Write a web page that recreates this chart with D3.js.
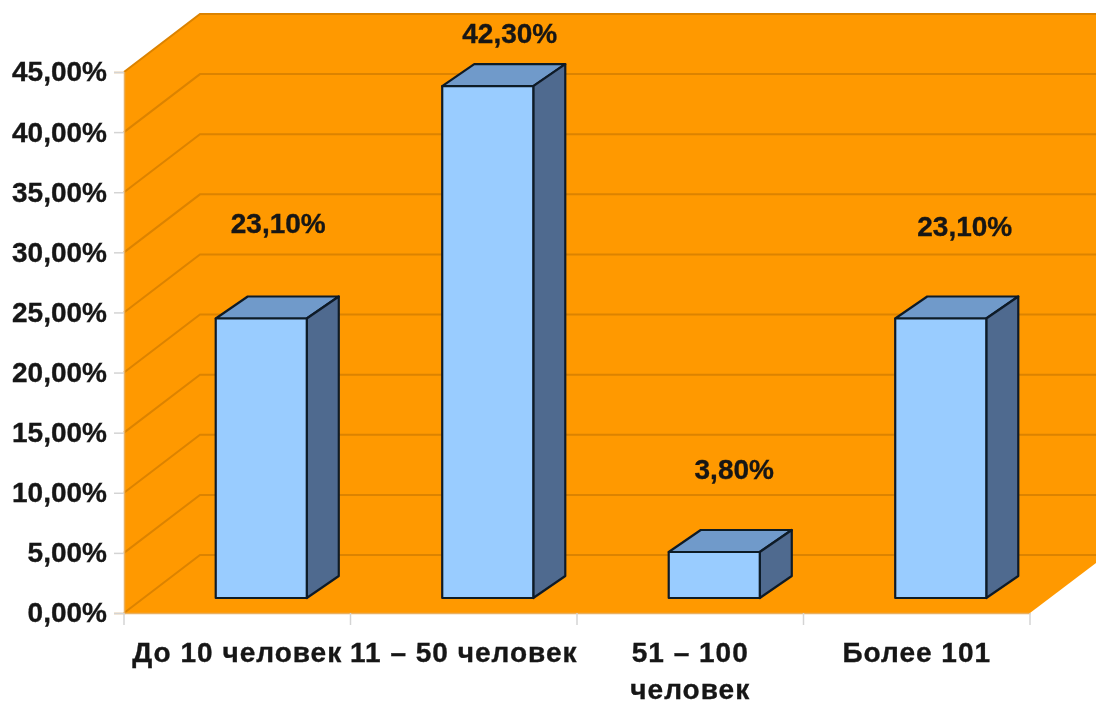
<!DOCTYPE html>
<html>
<head>
<meta charset="utf-8">
<script src="https://cdnjs.cloudflare.com/ajax/libs/d3/7.8.5/d3.min.js"></script>
<style>
  html, body { margin: 0; padding: 0; background: #fff; }
  svg { display: block; }
  text { font-family: "Liberation Sans", Arial, sans-serif; font-weight: bold; fill: #151515; stroke: #151515; stroke-width: 0.35px; }
</style>
</head>
<body>
<svg id="chart" width="1096" height="704"></svg>
<script>
// values
var categories = ["До 10 человек", "11 – 50 человек", "51 – 100 человек", "Более 101"];
var shares = [23.1, 42.3, 3.8, 23.1];
var shareLabels = ["23,10%", "42,30%", "3,80%", "23,10%"];
var yTicks = [0, 5, 10, 15, 20, 25, 30, 35, 40, 45];

var W = 1096, H = 704;
var left = 124, right = 1030, top0 = 72, bottom = 613;
var depthX = 76, depthY = 58;        // wall depth
var barDX = 32, barDY = 22;          // bar depth
var barBase = 598;

var svg = d3.select("#chart");
var defs = svg.append("defs");
defs.append("filter").attr("id", "soft")
  .append("feGaussianBlur").attr("stdDeviation", 0.75);
var g = svg.append("g").attr("filter", "url(#soft)");

var y = d3.scaleLinear().domain([0, 45]).range([bottom, top0]);
var yBar = d3.scaleLinear().domain([0, 45]).range([barBase, barBase - 12.1 * 45]);
var x = d3.scaleBand().domain(categories).range([left, right]);
var xBar = d3.scaleBand().domain(categories).range([left + 24, right + 24])
  .paddingInner(0.598).paddingOuter(0.299);

function pts(a) { return a.map(function(p) { return p.join(","); }).join(" "); }

// walls and floor, all one flat orange
g.append("polygon")
  .attr("points", pts([[left, top0], [left + depthX, top0 - depthY], [W, top0 - depthY], [W, bottom - depthY + 8],
    [right, bottom], [left, bottom]]))
  .attr("fill", "#ff9900");

// gridlines run along the side wall then across the back
g.append("g").selectAll("polyline").data(yTicks).enter().append("polyline")
  .attr("points", function(d) {
    return pts([[left, y(d)], [left + depthX, y(d) - depthY], [W, y(d) - depthY]]);
  })
  .attr("fill", "none")
  .attr("stroke", "#dc8300")
  .attr("stroke-width", 2);

// y axis
var yAxis = g.append("g").attr("transform", "translate(" + left + ",0)")
  .call(d3.axisLeft(y).tickValues(yTicks).tickSize(10).tickPadding(7)
    .tickFormat(function(d) { return d3.format(".2f")(d).replace(".", ",") + "%"; }));
yAxis.select(".domain").attr("stroke", "#e9b060").attr("stroke-width", 1.5);
yAxis.selectAll(".tick line").attr("stroke", "#d4d4d4").attr("stroke-width", 1.5);
yAxis.selectAll("text").style("font-size", "28px").attr("fill", "#151515");

// x axis, labels sit under the band centres
var xAxis = g.append("g").attr("transform", "translate(0," + bottom + ")")
  .call(d3.axisBottom(x).tickSize(0).tickPadding(0));
xAxis.select(".domain").attr("stroke", "#e9b060").attr("stroke-width", 1.5);
xAxis.selectAll("text").each(function(d) {
  var t = d3.select(this).text(null)
    .style("font-size", "28px").style("letter-spacing", "1px")
    .attr("y", 49).attr("dy", 0);
  var lines = d === "51 – 100 человек" ? ["51 – 100", "человек"] : [d];
  lines.forEach(function(s, i) {
    t.append("tspan").attr("x", 0).attr("y", 49 + i * 37).text(s);
  });
});

// ticks between the categories
g.append("g").selectAll("line")
  .data(d3.range(categories.length + 1)).enter().append("line")
  .attr("x1", function(i) { return left + i * x.step(); })
  .attr("x2", function(i) { return left + i * x.step(); })
  .attr("y1", bottom).attr("y2", bottom + 12)
  .attr("stroke", "#d4d4d4").attr("stroke-width", 1.5);

// bars: front, top, side
var bars = g.append("g").selectAll("g").data(categories).enter().append("g");
function barEdges(i) {
  var c = categories[i];
  return { x0: xBar(c), x1: xBar(c) + xBar.bandwidth(), yt: yBar(shares[i]) };
}
bars.append("polygon")
  .attr("points", function(d, i) {
    var b = barEdges(i);
    return pts([[b.x0, b.yt], [b.x0 + barDX, b.yt - barDY], [b.x1 + barDX, b.yt - barDY], [b.x1, b.yt]]);
  })
  .attr("fill", "#6f9aca");
bars.append("polygon")
  .attr("points", function(d, i) {
    var b = barEdges(i);
    return pts([[b.x1, b.yt], [b.x1 + barDX, b.yt - barDY], [b.x1 + barDX, barBase - barDY], [b.x1, barBase]]);
  })
  .attr("fill", "#4f6a8f");
bars.append("rect")
  .attr("x", function(d, i) { return barEdges(i).x0; })
  .attr("y", function(d, i) { return barEdges(i).yt; })
  .attr("width", xBar.bandwidth())
  .attr("height", function(d, i) { return barBase - barEdges(i).yt; })
  .attr("fill", "#99ccff");
bars.selectAll("polygon, rect")
  .attr("stroke", "#111a28").attr("stroke-width", 2.2).attr("stroke-linejoin", "round");

// data labels float at different heights and offsets around each bar
var labelLift = [95, 53, 83, 92];
var labelShift = [17, 22, 20, 24];
g.append("g").selectAll("text").data(shareLabels).enter().append("text")
  .attr("x", function(d, i) { return xBar(categories[i]) + xBar.bandwidth() / 2 + labelShift[i]; })
  .attr("y", function(d, i) { return yBar(shares[i]) - labelLift[i] + 10; })
  .attr("text-anchor", "middle")
  .style("font-size", "28px")
  .text(function(d) { return d; });
</script>
</body>
</html>
